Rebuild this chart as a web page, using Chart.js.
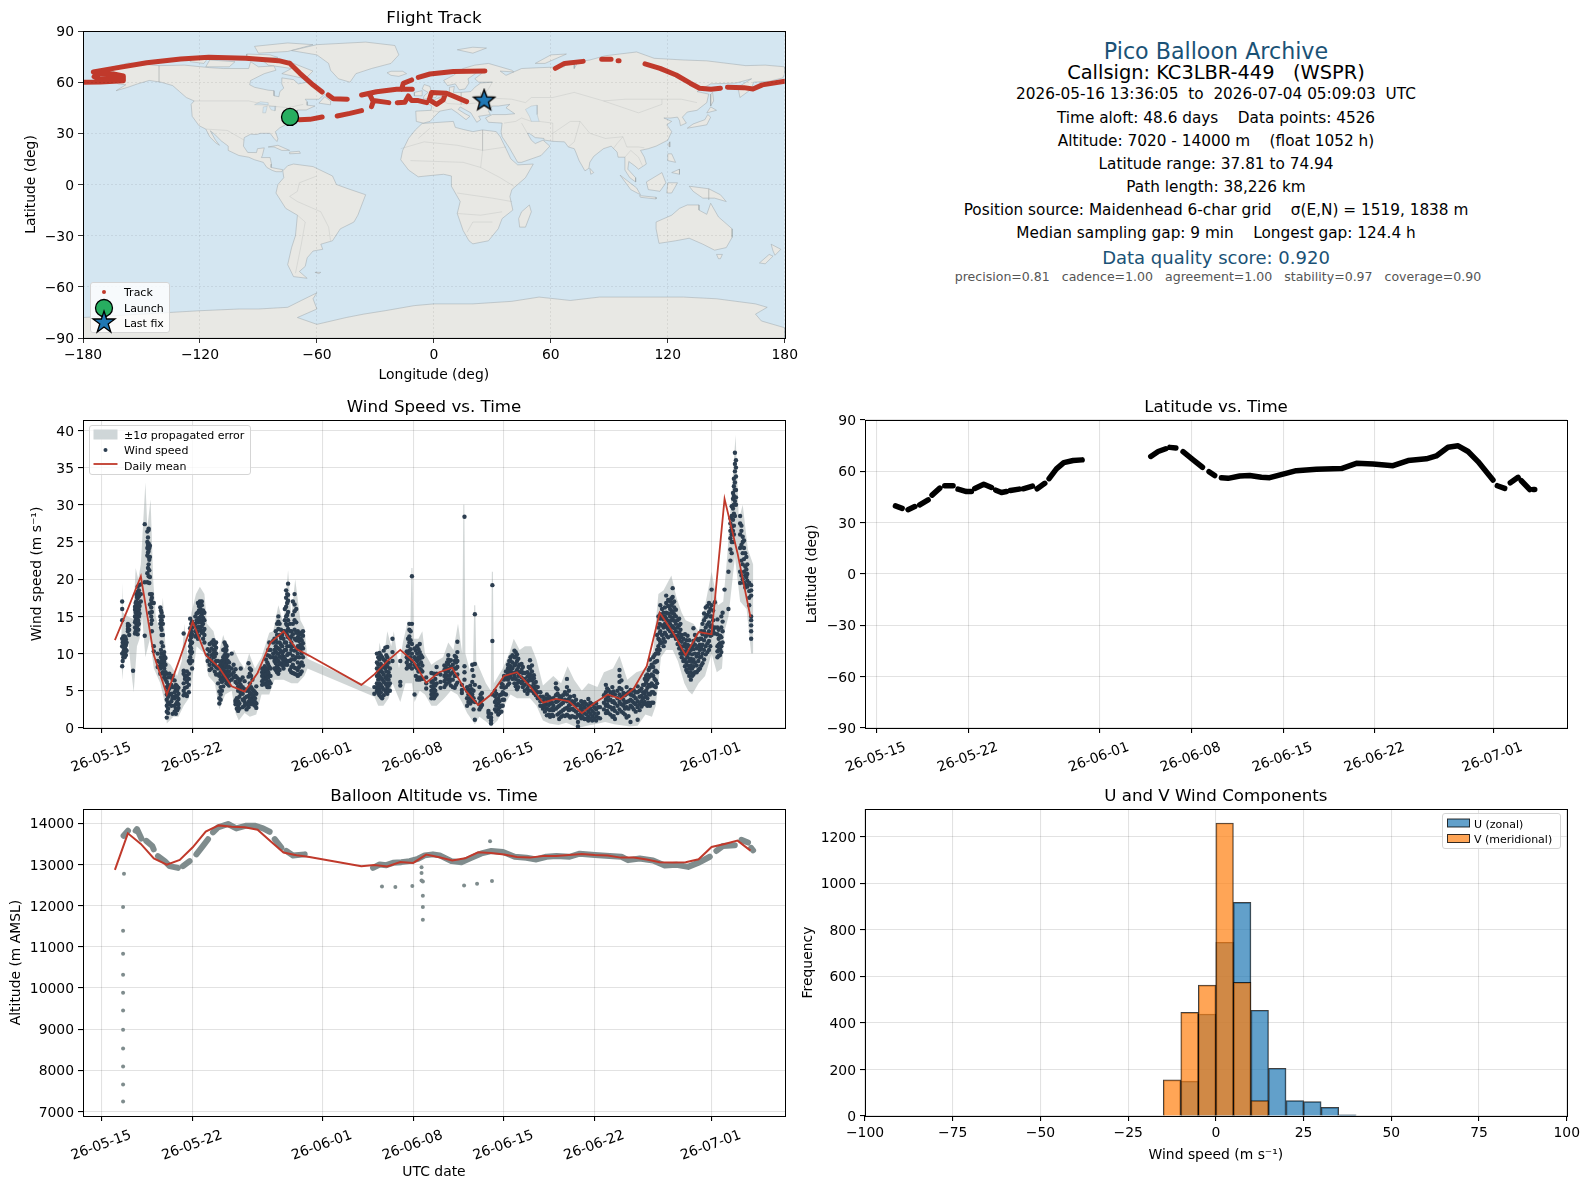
<!DOCTYPE html>
<html>
<head>
<meta charset="utf-8">
<title>Pico Balloon Archive</title>
<script src="https://cdn.jsdelivr.net/npm/chart.js@4"></script>
<style>
  html, body { margin: 0; background: #fff; }
  body { position: relative; width: 1590px; height: 1189px; overflow: hidden; font-family: "DejaVu Sans", sans-serif; color: #000; }
  canvas { position: absolute; }
  .info { position: absolute; left: 866px; width: 700px; text-align: center; white-space: pre; transform: translateY(-50%); font-size: 15.3px; line-height: 1.2; }
  .legend { position: absolute; background: rgba(255,255,255,.8); border: 1px solid #d5d5d5; border-radius: 3px; box-sizing: border-box; font-size: 11px; }
  .legend span { position: absolute; transform: translateY(-50%); white-space: pre; }
  .legend svg { position: absolute; left: 0; top: 0; overflow: visible; }
</style>
</head>
<body>

<canvas id="mapChart" width="802" height="384" style="left:0;top:0"></canvas>
<canvas id="windChart" width="800" height="409" style="left:0;top:389px"></canvas>
<canvas id="latChart" width="800" height="409" style="left:782px;top:389px"></canvas>
<canvas id="altChart" width="800" height="403" style="left:0;top:778px"></canvas>
<canvas id="histChart" width="802" height="386" style="left:782px;top:778px"></canvas>

<div class="info" style="top:51px;font-size:22.2px;color:#1a5276">Pico Balloon Archive</div>
<div class="info" style="top:73px;font-size:19.4px">Callsign: KC3LBR-449   (WSPR)</div>
<div class="info" style="top:94px">2026-05-16 13:36:05  to  2026-07-04 05:09:03  UTC</div>
<div class="info" style="top:118px">Time aloft: 48.6 days    Data points: 4526</div>
<div class="info" style="top:141px">Altitude: 7020 - 14000 m    (float 1052 h)</div>
<div class="info" style="top:164px">Latitude range: 37.81 to 74.94</div>
<div class="info" style="top:187px">Path length: 38,226 km</div>
<div class="info" style="top:209.5px">Position source: Maidenhead 6-char grid    σ(E,N) = 1519, 1838 m</div>
<div class="info" style="top:232.5px">Median sampling gap: 9 min    Longest gap: 124.4 h</div>
<div class="info" style="top:257.5px;font-size:18px;color:#1a5276">Data quality score: 0.920</div>
<div class="info" style="top:277px;left:868px;font-size:12.55px;color:#555">precision=0.81   cadence=1.00   agreement=1.00   stability=0.97   coverage=0.90</div>

<div class="legend" style="left:90px;top:282px;width:80px;height:51px">
  <svg width="80" height="51">
    <circle cx="13" cy="9" r="2" fill="#c0392b"/>
    <circle cx="13" cy="25" r="8.5" fill="#27ae60" stroke="#000" stroke-width="1.3"/>
    <polygon points="13,28 15.6,36 24,36 17.2,41 19.8,49 13,44 6.2,49 8.8,41 2,36 10.4,36" fill="#1f77b4" stroke="#000" stroke-width="1.3"/>
  </svg>
  <span style="left:33px;top:9px">Track</span>
  <span style="left:33px;top:25px">Launch</span>
  <span style="left:33px;top:40px">Last fix</span>
</div>

<div class="legend" style="left:89px;top:425px;width:162px;height:50px">
  <svg width="162" height="50">
    <rect x="3.5" y="3.5" width="24" height="10" fill="#cfd6d8"/>
    <circle cx="15.5" cy="24" r="2" fill="#2c3e50"/>
    <line x1="3.5" x2="27.5" y1="38" y2="38" stroke="#c0392b" stroke-width="1.8"/>
  </svg>
  <span style="left:34px;top:9px">±1σ propagated error</span>
  <span style="left:34px;top:24px">Wind speed</span>
  <span style="left:34px;top:39.5px">Daily mean</span>
</div>

<div class="legend" style="left:1442px;top:813px;width:119px;height:36px">
  <svg width="119" height="36">
    <rect x="4.5" y="5" width="22" height="8" fill="rgba(31,119,180,.7)" stroke="rgba(0,0,0,.8)"/>
    <rect x="4.5" y="20.5" width="22" height="8" fill="rgba(255,127,14,.7)" stroke="rgba(0,0,0,.8)"/>
  </svg>
  <span style="left:31px;top:9.5px">U (zonal)</span>
  <span style="left:31px;top:25px">V (meridional)</span>
</div>

<script>
// days are counted from 2026-05-15 00:00 UTC
const dateTicks = [0, 7, 17, 24, 31, 38, 47];
const dateLabels = ['26-05-15', '26-05-22', '26-06-01', '26-06-08', '26-06-15', '26-06-22', '26-07-01'];
const lonTicks = [-180, -120, -60, 0, 60, 120, 180];
const latTicks = [-90, -60, -30, 0, 30, 60, 90];
const windTicks = [0, 5, 10, 15, 20, 25, 30, 35, 40];
const altTicks = [7000, 8000, 9000, 10000, 11000, 12000, 13000, 14000];
const speedTicks = [-100, -75, -50, -25, 0, 25, 50, 75, 100];
const freqTicks = [0, 200, 400, 600, 800, 1000, 1200];

const meanDay = [1,2,3,4,5,6,7,8,9,10,11,12,13,14,15,16,20,21,22,23,24,25,26,27,28,29,30,31,32,33,34,35,36,37,38,39,40,41,42,43,44,45,46,47,48,49,50];
const windMean = [11.8,16,20.4,9.8,4.5,9.3,14.3,9.8,8.2,5.6,4.9,7.4,11.5,13,10.6,9.7,5.8,7.2,9,10.5,9,6.1,7.5,8.1,5.1,3.1,4.5,7,7.5,5.6,3.4,3.9,3.6,2,3.4,4.5,3.9,5.3,8.3,15.5,12.9,9.8,12.9,12.6,30.8,23.5,14.9];
const altMean = [12868,13757,13500,13150,12998,13110,13418,13798,13950,13919,13903,13846,13563,13289,13224,13183,12957,12990,12950,13062,13038,13240,13175,13095,13150,13297,13280,13240,13183,13167,13208,13208,13232,13256,13232,13216,13167,13167,13120,13054,13046,13054,13127,13426,13500,13580,13337];

// one row per sampled moment: day, then the speeds read at that moment
const windRows = [
[1.56,8.3,10,11,12,14.5,16,17],[1.65,9.5,10.2,10.9,11.5,12,12.3],[1.75,9.5,10,10.6,11.3,12,12.3],[1.85,9.8,10.5,11.2,11.9],
[2,13,13.3,13.7,14],[2.1,12.5,13.2,13.8],[2.4,7.7],[2.55,12.7,13.5,14.2,15,15.9,16.3],[2.65,13.3,14,14.8,15.6,16.2,17,18],
[2.75,12.6,13.8,14.6,15.7,16.5,17.4,18.3,19],[2.85,14,15,15.9,16.8,17.7,18.5,19.2],[3,17,18,19.3],[3.3,12.4,19.6,27.4],
[3.5,19.6,20.8,23.2,24.2,25,26.4],[3.6,20.4,22,23,23.8,24.8,26.6,26.8],[3.7,15.5,16.6,18,20.3,23,24.5],[3.85,13,14.5,15.6,16.8,17.5,18],
[4,10.3,11,16.8],[4.3,8.2,9,10],[4.5,7.3,8,8.7,14,15,16.2],[4.6,9,10,11.5,12.5,13.2,14,14.5,15.5],[4.8,6.8,7.2,8,8.7,9,9.7,10.2],
[5,1.4,2.2,3,3.8,4.5,5.5,6.2,7.3],[5.2,3.2,4.5,5.3,7.3],[5.45,1.9,4,4.2,5.5,6.5,7],[5.7,1.9,2.6,3.2,4.3,5.2,5.8],[5.9,2.7,3.2,3.9,4.6,5.4],
[6.3,4.4,5,6,7.3,7.7,12.7],[6.55,4.3,5.5,6.2,7,7.6],[6.8,8.7,9.5,10.3,11,11.8,12.5,13.4,14.7],[6.95,8,9,10.2,11.5,12.6,13.5,14.3],
[7.2,12.3,13,14,15],[7.4,12,13,14.2,15.5,16.8],[7.55,13.5,14.5,15.6,16.3,17],[7.7,12.8,13.7,14.4,15.2,15.6,16.5,17],[7.9,11.5,12.5,13.3,14.5,15.5],
[8.3,7.8,8.5,9.3,10.3,11.3],[8.6,8.5,9.5,10,10.5,11.2,11.8],[8.8,7.2,8.2,9,10,10.8,11.5],[9.05,3.3,4,4.9,7,8.3],[9.25,5,6.2,6.8,7.5,8.2,9],
[9.45,6.7,7.5,8.1,9,9.8,10.6,11.5],[9.6,6,6.8,7.6,8.6,9.5,10.5,11],[9.8,5.7,6.3,7,7.6,8.2,8.8],[10,6.5,7.2,8,10],[10.3,3.2,3.5,3.7,6.2,7,7.9],
[10.5,2.3,3,3.6,5,5.6,6.6],[10.7,4.6,5,5.8,6.5,8],[11,3,3.5,4,5.2,6.3],[11.3,2.8,3.5,4.3,5.2,6.9,8.7],[11.5,3.5,4,4.6,5.5,7,7.8],[11.7,3.2,3.8,4.3,5],[11.9,2.7,3.3,4.6,5.6],
[12.35,5.8,6.3,7,7.5,8],[12.55,6,6.8,7.5,8.3],[12.75,5.5,6.2,7,7.7,8.8,9.8],[12.9,5.5,6.3,7.1,8.2,9.7,11.5],[13.2,9.5,10,11.5,11.7],
[13.4,7.8,8.7,9.5,10.3,11,11.9,13],[13.6,7.3,8,9,10,10.7,13.3,14.3,15],[13.8,8.7,9.5,10.3,11.2,12.1,13.2],[14,8,9,9.6,10.3,12,13],
[14.2,9,10.5,11.5,12.9,14,15,16.3,17.5,18.5],[14.35,9,10,12.2,13.3,14.5,15.6,17.1,17.9,19.4],[14.6,7.5,8.2,9.2,10.5,11.5,12.3,13],
[14.85,7.3,8.1,9.2,10.4,12,13.2,14.5,15.7,16.6,18],[15.1,7,7.8,8.8,10,11,12.2,13],[15.3,7.3,8.5,10.5,11.2,12,12.8],[15.5,8.4,9.5,10.7,11.4,12.4,13],
[21,4.6,5.5],[21.2,5,5.5,6,7,8,8.8,10],[21.4,4.4,5.2,6,7,8,9.2,10.1],[21.6,4,5.5,6.5,7.5,8.3,9.5],[21.85,5,6,6.8,8,9,10.8],[22,4.6,5.4,6,7,8.3,9.5,10.9],
[22.2,5,6,7,8],[22.4,9,10.2,12],[23,5.7,6.2,9],[23.5,8,8.8,9.5,10.3],[23.7,8.2,9.4,10.4,11.5,12.3,13.2,14],[23.9,8,9,10,11.3,14,20.4],[24.1,4.5,8.5,9.5,10.7],
[24.3,6.5,8,9,10,11],[24.5,6.5,8,9.3,10.2,11.3],[24.7,6.6,7.6,8.4,9.5],[25,5.3,6,6.8],[25.4,4,4.5,5,5.6,6.2,7.4],[25.6,4,4.6,5.2,5.9,7.3],[25.8,4.5,6,7.3,8.2],[26.1,5.4,6.2,7.2],
[26.4,5.5,6.3,7,7.8,8.4],[26.7,6.5,7.6,8.6,9.2,9.8],[26.9,5.7,6.5,7.3,8.2,9.1],[27.2,5.4,7,8,9,9.7],[27.4,6.1,7.2,8.2,9,10.2,11.6],[27.75,4.7,5.1,5.8],[27.95,6.5,7.5,8.3,28.4],
[28.15,3,4,5,5.5],[28.4,3.3,4,4.7,5.7],[28.55,4.5,6.2,7.8,8.5],[28.75,1.1,3.5,5.8,8.6,15.3],[29.1,2.5,3.2,4,5.5],[29.3,3.1,4,4.7],[29.8,1.5,2,2.3],[30,0.6,1,1.4,1.9],[30.1,4.5,11.7,19.2],
[30.3,2.5,3.5,4.3,5],[30.55,1.8,2.5,3.3,4],[30.8,2.2,3,4.5,5.5,6],[31,3.8,4.6,5.4,6.5,7],[31.3,5.8,6.5,7.2,8,8.5],[31.5,7,7.8,8.3,9,9.5],[31.8,6,7,8.4,9.5,10.4],[32,5.2,6,7.8,9,9.9],[32.2,6.2,7.5,8.5],
[32.45,5.5,6.3,7.4,8.2],[32.8,4.6,5.3,6.2,6.9,7.5],[33,6.6,7.2,8,9.1],[33.3,4.7,5.3,6,6.7,7.1],[33.6,4,4.8,5.5],[34,2.6,3,3.6,4.2],[34.3,1.7,2.6,3.2,3.9,4.5],[34.55,1.5,2.4,3.3,4],[34.8,1.6,2.4,3,4],
[35,2.6,3.5,4.4,5.4,6],[35.25,1.2,2,3,3.8,4.3],[35.55,1.7,2.4,3.4,4.4],[35.85,1.8,2.7,3.6,4.5,5.5,6.6],[36.1,1.4,2.5,3.2,4.2],[36.4,1.5,2.4,3.4,4.3],[36.7,0.2,0.8,1.8,3.2],[36.95,1.3,2,2.7,3.6],
[37.2,1.2,2,2.8,3.5],[37.5,1,1.5,2.2,3,3.9],[37.8,1,1.6,2.3,3.2],[38.1,1,1.6,2.5,3.3],[38.4,1.3,2.8],[38.85,2,3,3.8,4.8,5.8],[39.05,2,2.9,3.7,4.3,5.1],[39.35,1.5,2.5,3.5,4.4,5.5],[39.55,1.2,2.3,3.3,4.5],
[39.9,2.5,3.5,4.5,5.4,6.2,7,7.8],[40.2,2,3,3.8,4.7],[40.45,1.4,2.8,3.5,4.6,5.5],[40.75,0.8,3,3.8,4.5,5.1],[41,2.5,3.4,4.3,5.1],[41.3,1.1,2.8,3.6,4.8,5.6],[41.6,2.9,3.6,4.3,5.3],[41.85,3.5,4.6,5.8,6.6],
[42.05,3,4,5.4,6.5,7.2],[42.25,3,4.5,5.6,7,8.1,9.2],[42.5,3.4,4.8,5.7,7,8.2,9.5],[42.7,5.5,6.4,7.7,8.9,10],[42.9,10,11,12,13.5,15],[43.05,11.4,13,14.7,15.3,16.5],[43.3,11,12,13.5,14.6,15.5],
[43.5,12.5,13.6,14.7,15.5,16.8,17.8],[43.8,13,14,15,16,17],[44,12.8,13.7,14.8,15.7,16.8,17.6,18.8],[44.25,12,13,14,15,15.9],[44.5,10.7,11.8,12.8,13.8,14.7],[44.7,9.5,10.5,11.6,12.5],[44.95,8.3,9.2,10.3,11.3,12.6],
[45.15,7.5,8.4,9.5,10.4,11.2,12.4],[45.4,6.5,7.5,8.4,9.3,10.5],[45.6,7.2,8.3,9.2,10.6,11.7,13.4],[45.85,7.5,8.4,9.6,10.7,12],[46.1,8,9.5,10.5,11.2,12],[46.3,8.7,10,11.2,12.6,14],[46.55,9.9,11,12.3,13.5,14.9,16.2],
[46.8,10.5,11.7,13,14.2,15.6,16.8],[47,12.5,13.8,15,16.5,18.6],[47.25,12.7,13.5,16.9],[47.45,9.5,10.3,11,12.6,13.5,14.6],[47.65,9.8,10.6,11.4,12.4],[47.85,11.5,13,14.3,15.5],[48,18.6],[48.3,16,21],
[48.45,22.5,24,25.5,26.5,27.5,28.2],[48.65,25,26.5,28,29.5,30.8,31.6],[48.8,28.5,30.5,32,33,34.5,35.5,37],[49.2,19.5,21,24.2,26,27.5,28.5],[49.4,20,22,23.5,25,25.7],[49.6,18.9,20.5,21.7,23.5],[49.75,19,19.8,20.7,22],
[50.05,12,13,13.8,14.5,15,17.8,18.5,19.2]
];

// second pass over the dense stretches of the same scatter
const windRowsDense = [
[1.6,9,11.5],[1.7,9.7,10.4,11.7],[1.8,10.2,11,12.2],[1.9,10.4,11.5],
[2.6,13,14.5,15.5,16.8],[2.7,13.6,15.2,16,17.6],[2.8,13.2,14.4,15.4,16.6,17.8],[2.9,15.4,16.4,18],
[3.55,21.5,23.6,24.6,25.6],[3.65,19.5,21.2,22.6,24.2],[3.8,14,15,16.2,17.2],
[4.55,8.4,9.5,10.5,13.5,14.5,15.8],[4.7,7.5,8.3,9.3,11,12.5,14,15],[4.9,6.5,7.5,8.5,9.4],
[5.1,2,2.6,3.4,4.2,5,5.8,6.8],[5.35,3,3.6,4.6,5.8,6.8],[5.6,2.2,3,4,4.8,5.5,6.4],[5.8,2.4,3.5,4.2,5,5.6],
[6.4,4.6,5.4,6.6,7],[6.7,4.8,5.8,6.6,7.3,9],[6.88,9,10,10.7,11.4,12.2,13,14],
[7.3,12.6,13.5,14.5,15.4],[7.48,12.4,13.6,14.8,15.8,16.4],[7.62,13.2,14.2,15,15.9,16.6],[7.8,12,13,14,14.8,15.8],
[8.15,9,9.8,10.6],[8.45,8,9,9.8,10.7,11.5],[8.7,7.6,8.6,9.6,10.4,11.2],[8.95,6,7.2,8,9],
[9.15,3.8,4.5,5.5,6.5,7.5,8.6],[9.35,5.6,6.5,7.2,7.9,8.6,9.5,10.5],[9.52,6.4,7.2,8.4,9.3,10.2,11.2],[9.7,5.9,6.5,7.3,8.1,9,9.8],
[10.15,6.8,7.5,8.5],[10.4,2.6,3.3,4,6,6.8],[10.6,2.6,3.3,4.2,5.3,6.2],[10.85,2.8,3.8,4.6,5.5,6.8],[11.15,2.5,3.2,4.2,5],[11.4,3.2,3.8,4.8,6,7.3,8],[11.6,3.2,3.7,4.4,5.2,6.5],[11.8,3,3.5,4,4.8],
[12.45,6,6.6,7.2,7.8],[12.65,5.8,6.5,7.2,8,9.2],[12.82,5.5,6,6.8,7.5,8.5,10.5],[13,6,7,8,9.5,10.5],[13.3,8,9,10.5,12],[13.5,7.5,8.3,9.2,10,10.8,11.5,12.5,14],[13.7,7.8,8.6,9.6,10.6,11.5,12.5,14],[13.9,8.4,9.3,10,11,12.5],[14.1,8.5,9.3,10.5,11.5,13,14.5,16],[14.28,8.5,9.8,11,12.5,13.8,15.2,16.8,18],[14.5,7.8,9,10,11,12,13,14],[14.72,7.4,8.5,9.7,11,12.6,14,15.2,17],[14.98,7.2,8,9.5,10.5,11.8,12.8,14.2,16],[15.2,7.2,8.2,9.5,10.7,11.7,12.5],[15.4,7.6,8.8,10,11,11.8,12.6],
[21.3,4.7,5.6,6.5,7.5,8.5,9.5],[21.5,4.2,4.8,5.8,6.8,7.8,8.6,9.8],[21.72,4.4,5.2,6.2,7.2,8.2,9.2,10.4],[21.92,4.8,5.8,6.6,7.6,8.6,9.8],[22.1,5,5.7,6.5,7.5,8.8],[23.6,8.4,9.2,10,11,12],[23.8,8.5,9.5,10.6,11.8,13],[24.2,7,8.2,9.2,10.4],[24.4,6.8,7.6,8.5,9.5,10.6],[24.6,6.8,7.8,8.8,9.8],
[25.5,4.3,4.9,5.5,6.3],[25.7,4.3,5,5.7,6.6],[26.5,5.8,6.6,7.4,8.2],[26.6,6,7,8,8.8],[26.8,6.2,7,8,9],[27.05,5.5,6.5,7.5,8.5],[27.3,5.8,7,8,8.8,9.5],[28.25,3.5,4.5,5.2],[28.5,3.6,4.4,5.2],[28.65,2.5,4,5,7],[29.2,2.8,3.6,4.5],[30.4,2.2,3,3.8,4.6],[30.65,2,2.8,3.6,4.4],[30.9,3,3.8,4.8,5.8],
[31.15,4.5,5.5,6.8,7.6],[31.4,6,6.8,7.6,8.4,9],[31.65,6.6,7.4,8,8.8,9.8],[31.9,5.6,6.6,7.5,8.6,9.6,10.2],[32.1,5.5,6.4,7,8.2,9.3],[32.35,6,6.8,7.8,8.6],[32.6,5,5.8,6.6,7.4],[32.9,5,5.7,6.4,7.1,8.2],[33.15,5,5.6,6.4,7,7.6,8.4],[33.45,4.4,5,5.6,6.2],
[33.8,3,3.6,4.2,4.8],[34.15,2.2,2.8,3.4,4],[34.45,1.8,2.5,3.1,3.8,4.2],[34.7,1.8,2.6,3.4],[35.12,1.8,2.8,3.6,4.6,5.2],[35.4,1.5,2.2,3.2,4],[35.7,1.6,2.6,3.8,4.8],[36,1.6,2.4,3,3.9,5],[36.25,1.6,2.6,3.6],[36.55,1.4,2.2,3,3.8],[36.85,1.6,2.4,3],
[37.05,1.5,2.3,3.2],[37.35,1.2,1.8,2.5,3.2],[37.65,1.2,1.9,2.6,3.4],[37.95,1.2,2,2.8],[38.25,1.4,2,2.8],[38.7,2.5,3.4,4.4],[38.95,2.3,3.2,4.2,5.3],[39.2,1.8,2.8,3.8,4.8],[39.45,1.6,2.7,3.6,4.9],[39.75,2,3,4,5],[40.05,2.2,3.2,4.2,5.2,6.4],[40.32,1.8,2.6,3.4,4.4],[40.6,1.6,2.6,3.6,4.8],[40.88,2.8,3.6,4.4,5],[41.15,2.2,3.2,4,4.8],[41.45,2.4,3.2,4.2,5],[41.72,3.2,4,4.8,5.8],[41.95,3.2,4.2,5,6.2,7],[42.15,3.4,4.6,5.8,6.8,7.8],[42.38,3.4,4.8,6,7.2,8.5],[42.6,4.6,5.6,6.6,7.6,8.8,9.8],[42.8,6,7.5,9,10.5,12.5],
[43,10.5,11.8,12.8,14],[43.18,11.5,12.5,13.8,15,16],[43.4,11.6,12.8,14,15,16.2],[43.65,12.2,13.3,14.4,15.4,16.4,17.2],[43.9,12.4,13.5,14.5,15.5,16.5,17.4],[44.12,12.4,13.4,14.4,15.3,16.2,17],[44.38,11.3,12.4,13.5,14.5],[44.6,10,11,12.2,13.2,14],[44.82,9,10,11,12],[45.05,7.8,8.8,9.8,10.8,11.8],[45.28,7,8,9,10,11,11.8],[45.5,7,8,8.9,9.9,11],[45.72,7.5,8.8,10,11.2,12.5],[45.98,7.8,9,10,11,11.8],[46.2,8.4,9.6,10.8,12,13],[46.42,9.2,10.5,11.8,13,14.5,15.4],[46.68,10.2,11.4,12.6,13.9,15.2,16.4],[46.9,11,12.4,13.6,15,16],[47.12,12.8,13.2,14.5,15.8],[47.55,9.7,10.5,11.2,12,13.2],[47.75,10.2,11,12.2,13.5,15],
[48.55,23.5,25,26,27,28.5,29.8],[48.72,26,27.2,28.8,30,31.2,32.5,33.5],[48.88,30,31,32,33.8,35,36],[49.3,20.5,22.5,24.6,26.5,27.2],[49.5,19.5,21,22.7,24.2,25.2],[49.68,19.2,20.3,21.3,23],[49.9,16.5,17.5,18.4,19.5]
];

const bandHighDay = [1.5,1.56,1.62,2,2.4,2.6,2.8,3,3.35,3.5,3.75,3.95,4.15,4.45,4.7,4.95,5.3,5.8,6.15,6.35,6.6,6.9,7.25,7.55,7.9,8.1,8.6,9,9.35,9.8,10.2,10.6,11,11.35,11.8,12.3,12.9,13.2,13.6,14,14.35,14.6,14.9,15.3,15.6,15.85,21,21.1,21.4,21.7,22,22.3,22.5,22.9,23.2,23.6,23.78,23.86,23.94,24.02,24.4,24.7,24.9,25.4,25.8,26.3,26.7,27.1,27.45,27.78,27.86,27.94,28.02,28.4,28.62,28.7,28.78,28.86,29.6,29.98,30.06,30.14,30.22,30.9,31.4,31.75,32.2,32.6,33.1,33.5,34,34.8,35.4,35.9,36.4,37,37.5,38.2,38.7,39.4,39.9,40.5,41.2,41.7,42.1,42.5,42.9,43.3,43.9,44.3,44.7,45,45.6,46,46.5,47,47.5,47.9,48.2,48.6,48.85,49.1,49.4,49.8,50.2];
const bandHigh = [12,19.5,15.5,15,14.7,21.5,20,22,33,27,30.7,20,15,13,17.5,9,8.5,7,9,14,9.5,15.5,18,19,18,14,13,10,12.5,10,10.5,9,8,10,8,9.5,12.8,13,16.5,14,21.2,15,20,14.5,13.5,9.3,5.2,6,11.5,9,13,11,13,8,11.5,14.5,13,21.5,21.5,12,12,13,10,8.5,9,9.5,11.5,10.5,14,10,30,30,10,7.5,9,16.5,16.5,9,6,5,21,21,6,8,10,12,10.5,11,11,9.2,5.7,7,6,8.3,6.5,5,6,5.5,7.5,8,9.7,6.5,7.5,7.8,8.5,10.5,18,18.5,20.5,17.5,15.5,14.5,14,13,16.5,21,16.5,17,23,33,39.4,28,30,24,22];
const bandLowDay = [1.5,1.56,1.7,2,2.3,2.45,2.7,2.9,3.1,3.35,3.7,4,4.5,4.9,5,5.5,5.9,6.3,6.7,7,7.3,7.9,8.2,8.7,9.05,9.5,10,10.3,10.55,11,11.4,11.9,12.3,12.9,13.3,14,14.6,15.1,15.6,15.85,21,21.3,21.7,22.1,22.4,23,23.4,23.9,24.1,24.5,24.9,25.4,25.8,26.4,26.9,27.4,27.75,28.15,28.75,29.1,29.8,30,30.5,31,31.5,32,32.5,33,33.5,34,34.5,35.2,35.8,36.7,37.4,38,38.8,39.5,40.7,41.3,41.9,42.4,42.7,43.1,43.5,44,44.4,44.9,45.2,45.5,46,46.5,47,47.4,47.8,48,48.3,48.8,49.2,49.7,50.05,50.2];
const bandLow = [11,6.5,9,12,7,4.8,11,12,15,9.5,12,8,6,3,0.6,1.5,1.5,3,4,7,11,10,7,6,2.5,4.5,5,2,1,2,1.5,1.8,4.5,4.5,6.5,6.5,6,6,7,8,4.2,3,3,4,6,3.5,6,6,3.5,5,4.5,3,3,4,5,4.5,3.5,2,0.5,1.5,0.6,0.2,1,3,4.5,4,4,4,3,1,0.6,0.4,0.7,0,0.3,0.5,0.8,0.5,0.2,0.3,1.8,1.5,3,9.5,10.5,10.5,9,6,5,4.5,6,7,10,7.5,8,13,15,23,17,16,10,10];

const latDay = [1.45,1.96,null,2.41,2.92,null,3.3,3.94,null,4.24,4.83,null,5.21,5.84,null,6.22,6.86,7.24,null,7.5,8.18,8.77,null,9.1,9.53,9.91,null,10.21,10.87,null,11.18,11.89,null,12.25,12.83,null,13.16,13.72,14.28,14.99,15.68,null,20.91,21.47,22.05,null,22.36,22.82,null,23.37,24.14,24.85,null,25.35,25.78,null,26.29,26.8,27.69,28.45,29.34,29.97,30.99,32,33.53,35.44,36.58,37.85,39.37,40.52,41.91,42.67,43.56,44.33,45.09,45.85,46.48,46.99,null,47.32,47.88,null,48.31,48.9,null,49.15,49.79,null,50.05,50.17];
const latValue = [39.8,38.4,null,37.6,39.4,null,40.4,43.3,null,46.1,50.2,null,51.6,51.6,null,49.6,48.2,48.2,null,50,52.5,50.6,null,49,47.6,48.2,null,48.8,49.6,null,49.8,51.4,null,49.8,53,null,55.7,61.4,65.1,66.3,66.7,null,68.7,71.6,73.2,null,74,73.6,null,71.5,66.7,62.4,null,59.8,57.5,null,56.3,55.9,57.3,57.6,56.5,56.3,58.4,60.4,61.2,61.6,64.7,64.3,63.3,66.3,67.3,69,74.1,74.9,71.6,65.7,59.8,54.9,null,51.6,50,null,53.3,56.5,null,54.5,49.4,null,49.4,49.4];

const altDay = [1.67,2.01,null,2.6,2.7,3.04,null,3.42,3.88,3.99,null,4.32,4.84,5.22,5.86,null,6.25,6.76,null,7.28,7.79,8.18,null,8.56,8.95,9.72,10.36,11.13,11.77,12.42,12.93,null,13.32,13.83,null,14.22,14.73,15.63,null,20.9,21.41,21.92,22.44,23.08,23.72,24.37,24.88,25.52,26.04,26.94,27.71,28.48,29.25,30.02,30.92,31.82,32.72,33.49,34.26,35.04,36.06,36.83,37.99,39.15,40.05,40.56,41.46,42.49,43.39,44.29,45.19,46.09,46.86,null,47.37,47.88,48.79,null,49.3,49.81,null,50.05,50.2];
const altValue = [13697,13820,null,13820,13860,13631,null,13574,13451,13369,null,13205,13082,12959,12918,null,12959,13082,null,13246,13451,13615,null,13779,13902,13984,13877,13943,13943,13877,13795,null,13615,13410,null,13328,13221,13246,null,12918,13000,12983,13041,13057,13082,13139,13221,13246,13221,13082,13057,13164,13270,13328,13303,13188,13164,13123,13188,13205,13188,13262,13230,13205,13188,13106,13147,13098,12975,12992,12942,13057,13188,null,13328,13451,13467,null,13598,13533,null,13400,13344];
const altOutlierDay = [1.63,1.63,1.63,1.63,1.63,1.63,1.63,1.63,1.63,1.63,1.63,1.7,21.59,22.62,23.93,24.64,24.64,24.64,24.74,24.74,24.74,24.74,27.92,28.92,30.07,29.92];
const altOutlier = [7242,7654,8091,8528,8988,9450,9887,10321,10832,11390,11970,12778,12464,12456,12480,12933,12795,12610,12587,12238,11970,11655,12491,12532,12598,13565];

const histCenters = [-12.5,-7.5,-2.5,2.5,7.5,12.5,17.5,22.5,27.5,32.5,37.5];
const histU = [0,150,438,746,917,454,205,66,62,37,5];
const histV = [155,445,562,1258,574,66,0,0,0,0,0];

const launchLon = [-73.8], launchLat = [39.6];
const lastFixLon = [25.8], lastFixLat = [49.2];
const trackLon = [-69.1,-63.6,-57.3,null,-49.6,-43.1,-37.1,null,-73.85,-68.7,-61.9,-57.3,null,-54.2,-51.6,-44.4,null,-37.1,-29.4,-19.1,-11.1,null,-16.6,-15.7,-11.4,null,-32.8,-31.1,-32,null,-31.1,-23.1,null,-18.8,-14.9,-13.1,-11.4,-8,-3.7,null,-2.4,-1.2,6.5,16.8,null,-2.4,1.4,4.8,5.7,null,-8,-2,10,26.2,null,62.3,67,76.6,null,86.1,90.9,null,94.5,95,null,108.3,116,124.3,131.5,136.3,142.2,147,null,150.6,159,163.7,168.5,180,null,-180,-171.2,-159.3,-159.3,-164.4,-173,-174.3,-171.2,-161,null,-174.7,-164.4,-147.3,-129.9,-115.5,-96.5,-79.7,-73.85];
const trackLat = [38,38.2,39.6,null,40.2,41.7,43.3,null,71,65.2,58.3,54.2,null,52.5,50.3,50,null,52.5,54.4,55.8,55.8,null,55.8,59.3,61.3,null,52.5,48.6,45.6,null,49.2,48,null,48,48.2,51.9,49.2,49.2,48,null,49.6,54,53.5,48.6,null,49.6,47,49.6,52.5,null,62.8,64.8,66.2,66.5,null,68.1,71,72.2,null,73.4,73.4,null,72.6,72.6,null,70.7,68.1,64.2,59.4,56.4,55.8,56.4,null,57,56.8,56,58.4,60.5,null,59.9,60.1,60.9,63.6,64.8,64.8,63.2,61.7,62.2,null,66,68.1,71.4,73.6,74.6,74,72.6,71];

const northAmerica = [[-168,65.5],[-164,66.5],[-166,68.5],[-156.5,71.3],[-141,69.7],[-128,70],[-115,68.5],[-108,68],[-95,68],[-94,72],[-90,69],[-82,69.5],[-81,67],[-87,65],[-94,61],[-94.5,58.5],[-92,57],[-85,55.3],[-82,55],[-82,52],[-79.5,51.5],[-79,54.5],[-77,56.5],[-78,59],[-78,62.5],[-72,61.5],[-69.5,59],[-65,60],[-61,56.5],[-56,53],[-59,50],[-66,50],[-65,48.5],[-65,46.5],[-61,46],[-65.5,43.7],[-70,43.7],[-70,41.7],[-74,40.5],[-75.5,37.5],[-76,35],[-79,33.3],[-81.3,31],[-80,26.8],[-80.5,25.2],[-82,27],[-84,30],[-89,30],[-91,29.3],[-94,29.5],[-97.3,27.5],[-97.7,22.5],[-95.5,18.8],[-91,18.7],[-90.5,21],[-87,21.5],[-88,17],[-88.5,15.8],[-84,15.8],[-83.3,12],[-83.5,10],[-80,9.2],[-77.5,8.7],[-78,7.5],[-81,7.5],[-83,8.3],[-85.7,10],[-87.5,13],[-92,14.5],[-95,16],[-100,17],[-105.5,20],[-105.5,22.5],[-109,25.5],[-112.5,29.5],[-114.7,31.5],[-112,26],[-110,23],[-112,24.5],[-115,28],[-117,32.5],[-120.5,34.5],[-124,40],[-124.5,47],[-123,49],[-127,51],[-130.5,54.5],[-134,58],[-140,60],[-146,61],[-152,59],[-157,57],[-163,55],[-158,58.5],[-162,59],[-165,62],[-161,64],[-168,65.5]];
const greenland = [[-73,78.5],[-60,82],[-35,83.5],[-20,81.5],[-18,76],[-22,71],[-32,68],[-40,65],[-43,60],[-49,62],[-53,67],[-54,71],[-60,76],[-73,78.5]];
const baffin = [[-80,73.5],[-72,71],[-62,66.5],[-66,62],[-72,63.5],[-78,65],[-73,68],[-85,70],[-88,73],[-80,73.5]];
const victoria = [[-117,69],[-105,69],[-102,72],[-115,73],[-117,69]];
const ellesmere = [[-90,77],[-75,78],[-62,82],[-75,83],[-92,81],[-90,77]];
const banks = [[-125,72],[-118,71],[-116,74],[-124,74.5],[-125,72]];
const devon = [[-96,74],[-80,74.5],[-84,76],[-96,76.5],[-96,74]];
const newfoundland = [[-59,47.7],[-53,46.7],[-53,49],[-56,51.5],[-59,47.7]];
const iceland = [[-24,65.5],[-22,64],[-18,63.4],[-14,65],[-16,66.4],[-22,66.4],[-24,65.5]];
const britain = [[-5.5,50],[1,51],[1.7,52.7],[-1.5,55],[-2,57.5],[-5,58.6],[-6,56],[-3,54],[-5,52],[-5.5,50]];
const ireland = [[-10,52],[-6,52],[-6,55],[-10,54],[-10,52]];
const cuba = [[-85,22],[-80,23],[-74,20],[-78,20],[-82,22],[-85,22]];
const hispaniola = [[-74,19],[-69,19.5],[-68.5,18.3],[-74,18],[-74,19]];
const eurasia = [[-9,37],[-9.3,43],[-1.5,43.5],[-1,46],[-4.5,48.3],[0,49.5],[4,51.5],[8,54],[8,57],[10.5,57.5],[10,54],[14,54],[19,54.5],[21,57],[24,59.5],[30,60],[23,60],[21,62],[25,65.5],[22,65.5],[17.5,62],[18,59.5],[16,56],[13,55.5],[11,59],[7,58],[5,61],[10,64],[15,68],[21,70],[28,71],[40,67],[41,66],[34,66.5],[37,64],[45,68],[54,68.5],[67,69],[68,72],[72,72.5],[72,68],[74,72],[80,73],[88,75.5],[104,77.7],[113,74],[128,73],[140,72.5],[160,69.7],[170,70],[180,69],[180,65],[179,62.5],[172,60.5],[164,60],[163,56],[157,51],[156,57],[163,62],[155,59.5],[142,59],[135,54.5],[141,53],[140,48],[135,43.5],[130,42.5],[127.5,39.5],[129.5,36],[126.5,34.5],[126,37.5],[125,39.5],[121.5,39],[118,39],[122,37],[119.5,35],[122,31],[120,26],[114,22.5],[110,21],[106,20],[108,16],[109,12],[105,9],[103,11],[100,13.5],[99.5,9],[103.5,4],[103.5,1.5],[100.5,4],[98,8.5],[98,16],[94.5,16],[94,19],[91,22.5],[87,21],[82,16.5],[80,13],[79.5,9.5],[77.5,8],[74.5,14],[72.8,19],[72,21],[69,22],[67,25],[61,25.3],[57,26],[56.5,27],[52,27.5],[49,30],[48,30],[50,26],[52,24],[56,26],[59.5,22.5],[55,17],[45,13],[43,13],[39,21],[35,28],[34.5,31],[35,36],[28,36.5],[26.5,39],[30,41],[37,41],[41.5,41.5],[37,45],[39,47],[33,46],[30,46],[28,43],[29,41],[26,40.5],[23,40],[24,38],[22,36.5],[19.5,41],[19,42],[13.5,45.5],[12.5,44],[16,41.5],[18.5,40],[16.5,38],[12,42],[9,44.3],[3,43],[0,39.5],[-2,37],[-5.5,36],[-9,37]];
const africa = [[-6,35.8],[10,37],[11,33.5],[15,32.3],[20,31],[25,32],[32,31],[34,28],[37,21],[39.5,15],[43,11.5],[51,12],[47,4],[40,-3],[39,-7],[40.5,-15],[35,-20],[33,-26],[28,-33],[20,-34.8],[18,-33],[15,-27],[12,-17],[13.5,-10],[9,-1],[9,5],[5,6],[-4,5],[-8,4.5],[-13,8.5],[-17,14.5],[-16,20],[-13,27],[-9.5,32],[-6,35.8]];
const madagascar = [[49,-12],[50,-16],[47,-25],[44,-25],[43.5,-20],[45,-16],[49,-12]];
const southAmerica = [[-72,12],[-62,10.5],[-52,5],[-50,0],[-44,-2.5],[-35,-6],[-37,-12],[-39,-18],[-41,-22],[-48,-26],[-52,-33],[-58,-35],[-57,-38],[-62,-39],[-65,-43],[-66,-48],[-69,-51],[-65,-55],[-72,-54],[-75,-47],[-73,-37],[-71,-30],[-70,-18],[-76,-14],[-81,-5],[-80,0],[-77,4],[-77.5,8],[-75,11],[-72,12]];
const australia = [[114,-22],[122,-18],[126,-14],[130,-12],[136,-12],[136,-15],[140,-17.5],[142,-11],[146,-19],[153,-26],[153,-31],[150,-37],[144,-38.5],[138,-35],[131,-31.5],[124,-33],[115.5,-34.5],[114,-26],[114,-22]];
const tasmania = [[145,-41],[148,-41],[147,-43.5],[146,-43.5],[145,-41]];
const newZealandN = [[173,-35],[178,-38],[175,-41.5],[174,-39],[173,-35]];
const newZealandS = [[172,-41],[174,-42],[170,-46.5],[167,-46],[172,-41]];
const honshu = [[130,33],[135,34],[140,35],[142,39.5],[140.5,41],[139,38],[133,35.5],[130,33]];
const hokkaido = [[140,42],[145,43.5],[142,45.5],[140,42]];
const sakhalin = [[142,46],[143.5,49],[143,54],[142,53],[142,46]];
const sumatra = [[95.5,5.5],[104,-2],[106,-6],[101,-3],[95.5,5.5]];
const java = [[105.5,-6.5],[114,-7.5],[114,-8.5],[106,-7.5],[105.5,-6.5]];
const borneo = [[109,1.5],[117,7],[119,1],[116,-4],[110,-3],[109,1.5]];
const sulawesi = [[120,1],[125,1],[122,-5],[119.5,-5],[120,1]];
const newGuinea = [[131,-1],[141,-2.5],[147,-6],[150,-10],[144,-8],[138,-8],[133,-4],[131,-1]];
const luzon = [[120,18],[122,18],[124,13],[120,14],[120,18]];
const mindanao = [[122,7],[126,9],[126,6],[122,7]];
const sriLanka = [[80,9.5],[82,7],[80.5,6],[80,9.5]];
const taiwan = [[121,25],[121,22],[120,23],[121,25]];
const svalbard = [[12,79],[20,80.5],[27,80],[20,77],[12,79]];
const novayaZemlya = [[52,71],[57,71],[68,76.5],[60,76],[52,71]];
const falkland = [[-61,-51.5],[-58,-51.5],[-59,-52.3],[-61,-51.5]];
const antarctica = [[-180,-78],[-150,-76],[-120,-74],[-100,-73],[-90,-73],[-75,-72],[-68,-68],[-60,-63.5],[-62,-67],[-60,-73],[-70,-78],[-60,-82],[-45,-78],[-36,-76],[-25,-74],[-10,-71],[0,-70],[20,-70],[40,-68.5],[54,-66],[70,-68],[85,-66],[100,-66],[128,-66],[145,-67],[165,-70],[171,-72],[165,-76],[168,-80],[180,-84],[180,-90],[-180,-90],[-180,-78]];
const landShapes = [northAmerica, greenland, baffin, victoria, ellesmere, banks, devon, newfoundland, iceland, britain, ireland, cuba, hispaniola, eurasia, africa, madagascar, southAmerica, australia, tasmania, newZealandN, newZealandS, honshu, hokkaido, sakhalin, sumatra, java, borneo, sulawesi, newGuinea, luzon, mindanao, sriLanka, taiwan, svalbard, novayaZemlya, falkland, antarctica];

const caspian = [[50,46],[53,46.5],[53,41],[54,37],[50,37],[49,40],[47,44],[50,46]];
const lakeSuperior = [[-92,46.8],[-85,46.6],[-85,48],[-89,48.5],[-92,46.8]];
const lakeHuron = [[-84.5,45.8],[-81,45.8],[-81.5,43.2],[-83.5,43.8],[-84.5,45.8]];
const lakeMichigan = [[-87.8,42],[-86.3,42],[-85.5,45.8],[-87.5,45.5],[-87.8,42]];
const waterShapes = [caspian, lakeSuperior, lakeHuron, lakeMichigan];

const borderLines = [
  [[-123,49],[-95,49],[-83,46],[-75,45],[-67,47]], [[-141,69.7],[-141,60]], [[-117,32.5],[-106,31.7],[-97.3,26]],
  [[-70,-10],[-58,-16],[-54,-25],[-53,-33]], [[-70,-10],[-74,-7],[-70,-4],[-69,1],[-60,5]], [[-70,-18],[-66,-22],[-68,-35],[-71,-52]],
  [[-8,27],[-2,33]], [[-17,21],[-5,25],[12,23],[25,20],[37,22]], [[25,32],[25,20],[24,10],[34,4],[41,-1]], [[-12,14],[15,13],[24,10]], [[12,-5],[30,-8],[40,-10]], [[12,-17],[24,-18],[35,-16]], [[17,-28],[20,-22],[30,-22]],
  [[30,60],[28,56],[24,51],[40,50],[47,48],[50,51],[61,51],[72,54],[87,49],[98,50],[117,50],[127,50],[135,48]], [[50,37],[45,39],[42,37],[36,36]], [[48,30],[45,36]], [[61,25.3],[61,36],[54,37]], [[61,30],[70,37],[75,37],[72,25],[69,22]],
  [[75,37],[80,30],[88,27],[97,28],[94,24],[92,21]], [[97,28],[99,22],[105,22],[108,21.5]], [[98,16],[101,20],[105,16],[107,11]], [[87,49],[105,42],[117,47],[117,50]], [[2,51],[7,47.5],[14,47],[24,48],[30,46]], [[14,54],[14,47]], [[24,54],[24,48]], [[-1.5,43.5],[3,42.5]], [[141,-2.5],[141,-9]]
];

// ---- shared helpers ----
Chart.defaults.font.family = '"DejaVu Sans", sans-serif';
Chart.defaults.font.size = 13.9;
Chart.defaults.color = '#000';
Chart.defaults.animation = false;
Chart.defaults.responsive = false;
Chart.defaults.plugins.legend.display = false;
Chart.defaults.plugins.tooltip.enabled = false;

const points = (xs, ys) => xs.map((x, i) => ({x: x, y: ys[i]}));
const pairs = rows => rows.map(r => ({x: r[0], y: r[1]}));

const framePlugin = {
  id: 'frame',
  beforeDraw(chart, args, opts) {
    if (opts.background) {
      const a = chart.chartArea;
      chart.ctx.fillStyle = opts.background;
      chart.ctx.fillRect(a.left, a.top, a.width, a.height);
    }
  },
  afterDraw(chart) {
    const a = chart.chartArea, ctx = chart.ctx;
    ctx.save();
    ctx.strokeStyle = '#000';
    ctx.lineWidth = 1;
    ctx.strokeRect(Math.round(a.left) + 0.5, Math.round(a.top) + 0.5, Math.round(a.width), Math.round(a.height));
    ctx.restore();
  }
};
Chart.register(framePlugin);

function axis(min, max, ticks, opts) {
  opts = opts || {};
  const cfg = {
    type: 'linear',
    min: min,
    max: max,
    offset: false,
    afterBuildTicks(s) { s.ticks = ticks.map(v => ({value: v})); },
    afterFit(s) {
      if (opts.size) { if (s.isHorizontal()) s.height = opts.size; else s.width = opts.size; }
    },
    border: {display: false, dash: opts.dash},
    grid: {offset: false, color: opts.gridColor || 'rgba(0,0,0,0.115)', lineWidth: opts.gridWidth || 1.1, tickColor: '#000', tickLength: 5, z: opts.gridZ === undefined ? -1 : opts.gridZ},
    ticks: {
      autoSkip: false,
      padding: opts.padding === undefined ? 4 : opts.padding,
      maxRotation: opts.rotation || 0,
      minRotation: opts.rotation || 0,
      labelOffset: opts.labelOffset || 0,
      callback(v, i) { return opts.labels ? opts.labels[i] : String(v).replace('-', '\u2212'); }
    }
  };
  if (opts.title) {
    cfg.title = {display: true, text: opts.title, font: {size: 13.9}, padding: opts.titlePad};
  }
  return cfg;
}

function titleOpt(text) {
  return {display: true, text: text, fullSize: false, font: {size: 16.67, weight: 'normal', lineHeight: 1.2}, padding: {top: 8.5, bottom: 2.5}};
}

function layoutOpt() { return {padding: {right: 15}}; }

// ---- map ----
function starImage(r, fill) {
  const c = document.createElement('canvas');
  const size = 2 * r + 4;
  c.width = c.height = size;
  const ctx = c.getContext('2d');
  ctx.beginPath();
  for (let i = 0; i < 10; i++) {
    const rad = i % 2 ? r * 0.42 : r;
    const a = -Math.PI / 2 + i * Math.PI / 5;
    ctx[i ? 'lineTo' : 'moveTo'](size / 2 + rad * Math.cos(a), size / 2 + rad * Math.sin(a));
  }
  ctx.closePath();
  ctx.fillStyle = fill;
  ctx.fill();
  ctx.strokeStyle = '#000';
  ctx.lineWidth = 1.4;
  ctx.stroke();
  return c;
}

const mapDatasets = [
  {data: points(lastFixLon, lastFixLat), showLine: false, pointStyle: starImage(11, '#1f77b4'), pointRadius: 11},
  {data: points(launchLon, launchLat), showLine: false, pointRadius: 8.5, pointBackgroundColor: '#27ae60', pointBorderColor: '#000', pointBorderWidth: 1.3},
  {data: points(trackLon, trackLat), borderColor: '#c0392b', borderWidth: 5, borderCapStyle: 'round', borderJoinStyle: 'round', pointRadius: 0, spanGaps: false}
];
borderLines.forEach(line => mapDatasets.push({data: pairs(line), borderColor: 'rgba(150,155,155,0.2)', borderWidth: 1, pointRadius: 0}));
waterShapes.forEach(s => mapDatasets.push({data: pairs(s), fill: 'shape', backgroundColor: '#d4e6f1', borderColor: 'rgba(150,160,165,0.4)', borderWidth: 0.7, pointRadius: 0}));
landShapes.forEach(s => mapDatasets.push({data: pairs(s), fill: 'shape', backgroundColor: '#e8e8e4', borderColor: 'rgba(150,160,165,0.5)', borderWidth: 0.9, pointRadius: 0}));

new Chart(document.getElementById('mapChart'), {
  type: 'line',
  data: {datasets: mapDatasets},
  options: {
    layout: layoutOpt(),
    plugins: {title: titleOpt('Flight Track'), frame: {background: '#d4e6f1'}},
    scales: {
      x: axis(-180, 180, lonTicks, {size: 46, gridZ: 1, gridColor: 'rgba(0,0,0,0.09)', gridWidth: 0.8, dash: [2, 2], title: 'Longitude (deg)', titlePad: {top: 0, bottom: 0}}),
      y: axis(-90, 90, latTicks, {size: 83, labelOffset: 1.5, gridZ: 1, gridColor: 'rgba(0,0,0,0.09)', gridWidth: 0.8, dash: [2, 2], title: 'Latitude (deg)', titlePad: {top: 23, bottom: 0}})
    }
  }
});

// ---- wind speed ----
const windPoints = [];
windRows.concat(windRowsDense).forEach(r => r.slice(1).forEach(v => windPoints.push({x: r[0], y: v})));
const bandShape = points(bandHighDay, bandHigh).concat(points(bandLowDay, bandLow).reverse());

new Chart(document.getElementById('windChart'), {
  type: 'line',
  data: {datasets: [
    {data: points(meanDay, windMean), borderColor: '#c0392b', borderWidth: 1.8, pointRadius: 0},
    {data: windPoints, showLine: false, pointRadius: 2.2, pointBorderWidth: 0, pointBackgroundColor: '#2c3e50'},
    {data: bandShape, fill: 'shape', backgroundColor: 'rgba(127,140,141,0.36)', borderWidth: 0, pointRadius: 0}
  ]},
  options: {
    layout: layoutOpt(),
    plugins: {title: titleOpt('Wind Speed vs. Time')},
    scales: {
      x: axis(-1.46, 52.66, dateTicks, {size: 70, labels: dateLabels, rotation: 20, labelOffset: 29, padding: 6}),
      y: axis(0, 41.4, windTicks, {size: 83, labelOffset: 1.5, title: 'Wind speed (m s\u207B\u00B9)', titlePad: {top: 29, bottom: 0}})
    }
  }
});

// ---- latitude ----
new Chart(document.getElementById('latChart'), {
  type: 'line',
  data: {datasets: [
    {data: points(latDay, latValue), borderColor: '#000', borderWidth: 5.5, borderCapStyle: 'round', borderJoinStyle: 'round', pointRadius: 0, spanGaps: false}
  ]},
  options: {
    layout: layoutOpt(),
    plugins: {title: titleOpt('Latitude vs. Time')},
    scales: {
      x: axis(-0.87, 52.63, dateTicks, {size: 70, labels: dateLabels, rotation: 20, labelOffset: 29, padding: 6}),
      y: axis(-90, 90, latTicks, {size: 83, labelOffset: 1.5, title: 'Latitude (deg)', titlePad: {top: 21.7, bottom: 0}})
    }
  }
});

// ---- altitude ----
new Chart(document.getElementById('altChart'), {
  type: 'line',
  data: {datasets: [
    {data: points(meanDay, altMean), borderColor: '#c0392b', borderWidth: 2, pointRadius: 0},
    {data: points(altOutlierDay, altOutlier), showLine: false, pointRadius: 2, pointBorderWidth: 0, pointBackgroundColor: '#7f8c8d'},
    {data: points(altDay, altValue), borderColor: '#7f8c8d', borderWidth: 6, borderCapStyle: 'round', borderJoinStyle: 'round', pointRadius: 0, spanGaps: false}
  ]},
  options: {
    layout: layoutOpt(),
    plugins: {title: titleOpt('Balloon Altitude vs. Time')},
    scales: {
      x: axis(-1.46, 52.66, dateTicks, {size: 65, labels: dateLabels, rotation: 20, labelOffset: 29, padding: 6, title: 'UTC date', titlePad: {top: 0, bottom: 0}}),
      y: axis(6890, 14348, altTicks, {size: 83, labelOffset: 1.5, title: 'Altitude (m AMSL)', titlePad: {top: 8, bottom: 0}})
    }
  }
});

// ---- histogram ----
new Chart(document.getElementById('histChart'), {
  type: 'bar',
  data: {datasets: [
    {label: 'U (zonal)', data: points(histCenters, histU), order: 2, backgroundColor: 'rgba(31,119,180,0.7)', borderColor: 'rgba(0,0,0,0.75)', borderWidth: 1, barPercentage: 1, categoryPercentage: 1, grouped: false},
    {label: 'V (meridional)', data: points(histCenters, histV), order: 1, backgroundColor: 'rgba(255,127,14,0.7)', borderColor: 'rgba(0,0,0,0.75)', borderWidth: 1, barPercentage: 1, categoryPercentage: 1, grouped: false}
  ]},
  options: {
    layout: layoutOpt(),
    plugins: {title: titleOpt('U and V Wind Components')},
    scales: {
      x: axis(-100, 100, speedTicks, {size: 48, title: 'Wind speed (m s\u207B\u00B9)', titlePad: {top: 0, bottom: 0}}),
      y: axis(0, 1318, freqTicks, {size: 83, labelOffset: 1.5, title: 'Frequency', titlePad: {top: 17.7, bottom: 0}})
    }
  }
});
</script>
</body>
</html>
